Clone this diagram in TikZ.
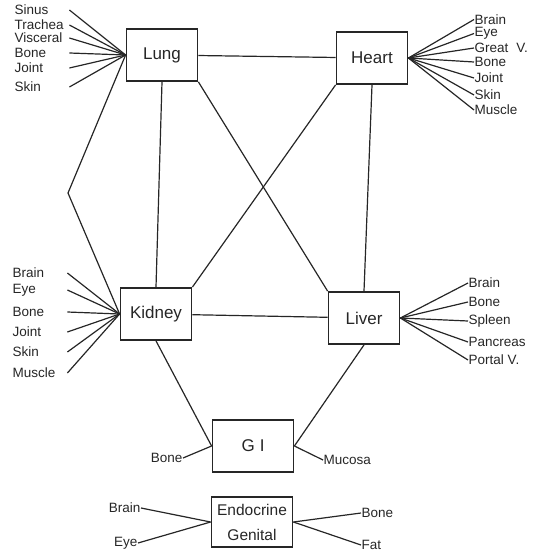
\documentclass[tikz,border=0pt]{standalone}
\usepackage{fontspec}
\setmainfont{Liberation Sans}
\usetikzlibrary{positioning}

\begin{document}
\begin{tikzpicture}[
  x=1pt,
  y=-1pt,
  organ/.style={
    draw=black!85,
    line width=1.8pt,
    minimum width=71pt,
    minimum height=52pt,
    inner sep=2pt,
    text=black!85,
    font=\fontsize{17}{19}\selectfont
  },
  edge/.style={line width=1.2pt,black!85},
  sitelabel/.style={
    inner sep=0.5pt,
    text=black!85,
    font=\fontsize{13.5}{15}\selectfont
  },
  leftlabel/.style={
    sitelabel,
    anchor=west,
    text width=54pt,
    align=left
  }
]
\useasboundingbox (0,0) rectangle (541,553);

% Organ boxes
\node[organ] (Lung) at (162,55) {Lung};
\node[organ] (Heart) at (372,58) {Heart};
\node[organ] (Kidney) at (156,314) {Kidney};
\node[organ] (Liver) at (364,318) {Liver};
\node[organ,minimum width=81pt] (GI) at (253,446) {G\hspace{5pt}I};
\node[
  organ,
  minimum width=81pt,
  minimum height=50pt,
  align=center,
  font=\fontsize{15.5}{25}\selectfont
] (Endo) at (252,522) {Endocrine\\Genital};

% Bend of the outer path
\coordinate (bend) at (68,193);

% Links between organs
\draw[edge] (Lung) -- (Heart);
\draw[edge] (Kidney) -- (Liver);
\draw[edge] (Lung.south) -- (Kidney.north);
\draw[edge] (Heart.south) -- (Liver.north);
\draw[edge] (Lung.south east) -- (Liver.north west);
\draw[edge] (Heart.south west) -- (Kidney.north east);
\draw[edge] (Lung.west) -- (bend) -- (Kidney.west);
\draw[edge] (Kidney.south) -- (GI.west);
\draw[edge] (Liver.south) -- (GI.east);

% Lung sites
\foreach \t/\y [count=\i] in {Sinus/10,Trachea/25,Visceral/38,Bone/53,Joint/68,Skin/87}{
  \node[leftlabel] (lung\i) at (14,\y) {\t};
  \draw[edge] (lung\i.east) -- (Lung.west);
}

% Heart sites
\foreach \t/\y [count=\i] in {Brain/19.5,Eye/33.5,{Great\hspace{8pt}V.}/48,Bone/62,Joint/78,Skin/95,Muscle/110}{
  \node[sitelabel,anchor=west] (heart\i) at (474,\y) {\t};
  \draw[edge] (heart\i.west) -- (Heart.east);
}

% Kidney sites
\foreach \t/\y [count=\i] in {Brain/273,Eye/290,Bone/312,Joint/332,Skin/352,Muscle/373}{
  \node[leftlabel] (kid\i) at (12,\y) {\t};
  \draw[edge] (kid\i.east) -- (Kidney.west);
}

% Liver sites
\foreach \t/\y [count=\i] in {Brain/283,Bone/302,Spleen/321,Pancreas/342,Portal V./360}{
  \node[sitelabel,anchor=west] (liv\i) at (468,\y) {\t};
  \draw[edge] (liv\i.west) -- (Liver.east);
}

% GI sites
\node[sitelabel,anchor=east] (giBone) at (183,458) {Bone};
\node[sitelabel,anchor=west] (giMucosa) at (323,460) {Mucosa};
\draw[edge] (giBone.east) -- (GI.west);
\draw[edge] (GI.east) -- (giMucosa.west);

% Endocrine sites
\node[sitelabel,anchor=east] (endBrain) at (141,508) {Brain};
\node[sitelabel,anchor=east] (endEye) at (138,543) {Eye};
\node[sitelabel,anchor=west] (endBone) at (361,513) {Bone};
\node[sitelabel,anchor=west] (endFat) at (361,545) {Fat};
\draw[edge] (endBrain.east) -- (Endo.west);
\draw[edge] (endEye.east) -- (Endo.west);
\draw[edge] (Endo.east) -- (endBone.west);
\draw[edge] (Endo.east) -- (endFat.west);

\end{tikzpicture}
\end{document}
